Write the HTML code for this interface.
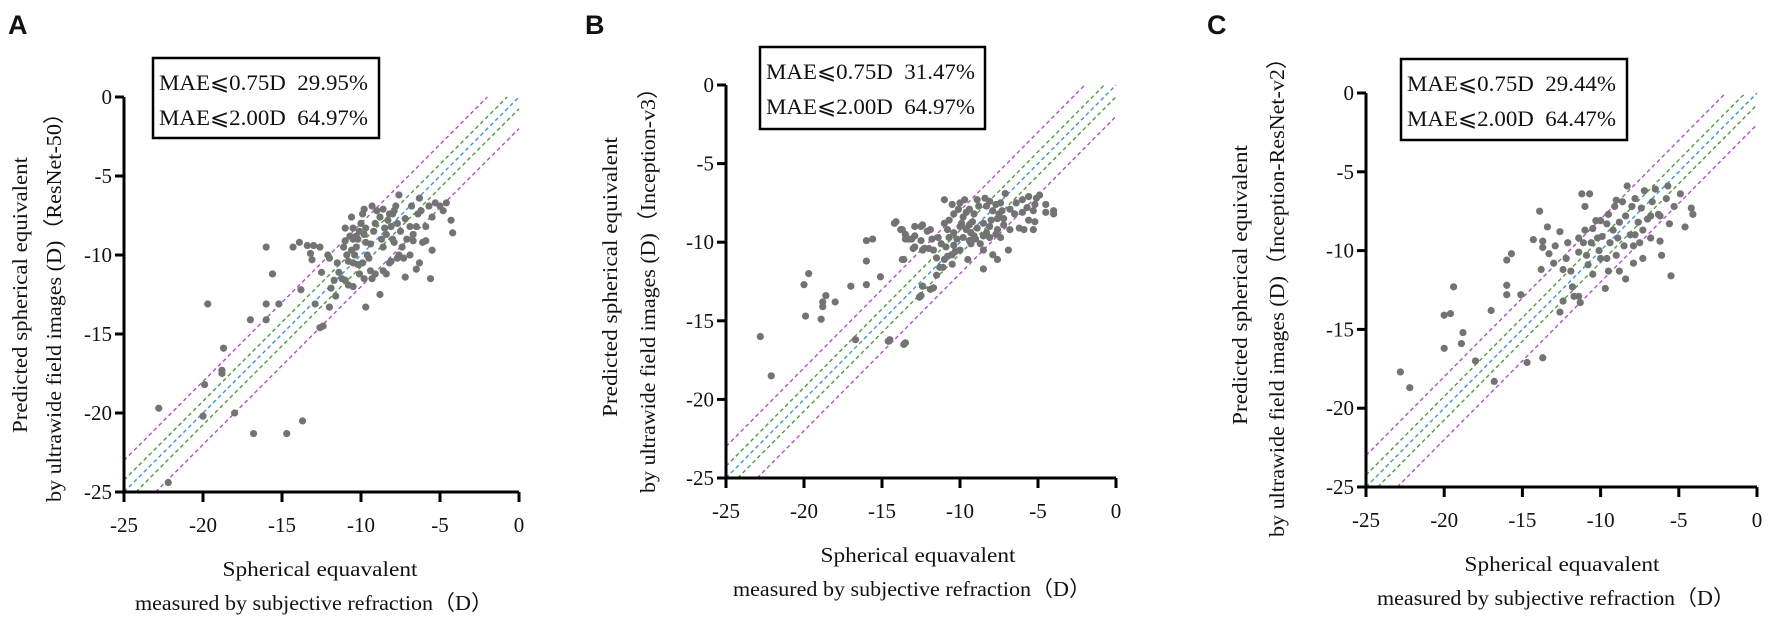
<!DOCTYPE html>
<html><head><meta charset="utf-8">
<style>
html,body{margin:0;padding:0;background:#fff;}
svg{display:block;}
text{font-family:"Liberation Serif","DejaVu Serif",serif;fill:#111;white-space:pre;}
.lbl{font-family:"Liberation Sans",sans-serif;font-weight:bold;font-size:27px;}
.tk{font-size:21px;}
.ttl{font-size:21px;}
.box{font-size:22px;}
</style></head>
<body>
<svg id="fig" width="1772" height="626" viewBox="0 0 1772 626" xmlns="http://www.w3.org/2000/svg"></svg>
<script>
// ---- data ----
const tickValues = [-25, -20, -15, -10, -5, 0];
const refOffsets = [2, 0.75, 0, -0.75, -2];
const refColors = ["#b24fc6", "#4f9a45", "#3d97c4", "#4f9a45", "#b24fc6"];

const modelNames = ["ResNet-50", "Inception-v3", "Inception-ResNet-v2"];
const mae075 = ["29.95%", "31.47%", "29.44%"];
const mae200 = ["64.97%", "64.97%", "64.47%"];

const xA = [-22.8,-22.2,-19.9,-20.0,-19.7,-18.8,-18.8,-18.7,-18.0,-17.0,-16.8,-16.0,-16.0,-16.0,-15.6,-15.2,-14.7,-13.7,-14.3,-13.9,-13.8,-13.4,-13.2,-13.0,-12.6,-13.1,-12.9,-12.6,-12.4,-12.5,-12.1,-12.0,-11.9,-12.0,-11.7,-11.6,-11.5,-11.4,-11.2,-11.1,-11.0,-10.7,-11.0,-10.6,-10.5,
-10.9,-10.8,-10.6,-10.5,-10.4,-10.3,-10.2,-10.1,-10.0,-9.9,-9.8,-9.7,-9.6,-9.5,-9.4,-9.3,-9.2,-9.1,-9.0,-8.8,-8.7,-8.6,-8.5,-8.4,-8.3,-8.2,-8.1,-8.0,-7.9,-7.8,-7.7,-7.6,-7.5,-7.4,-7.3,-7.2,-7.1,-6.9,-6.8,-6.7,-6.5,-6.4,-6.3,-6.2,-6.1,-5.9,-5.7,-5.5,-5.3,-5.0,-4.8,-4.6,-4.3,-4.2,
-5.5,-5.6,-6.5,-7.2,-7.7,-8.1,-8.4,-8.8,-9.1,-9.7,-9.8,-10.1,-10.2,-10.5,-10.8,-11.0,-5.9,-6.3,-6.7,-6.9,-7.6,-7.9,-8.2,-8.6,-9.4,-9.9,-10.5,-9.8,-9.3,-8.6,-8.0,-9.7,-10.3];
const yA = [-19.7,-24.4,-18.2,-20.2,-13.1,-17.3,-17.5,-15.9,-20.0,-14.1,-21.3,-9.5,-13.1,-14.1,-11.2,-13.1,-21.3,-20.5,-9.5,-9.2,-12.2,-9.4,-9.9,-9.4,-9.5,-10.3,-13.1,-14.6,-14.5,-11.1,-10.0,-10.2,-12.1,-13.3,-11.6,-12.6,-10.5,-11.1,-11.5,-9.5,-9.1,-8.8,-8.3,-7.6,-8.3,
-10.0,-10.4,-9.7,-10.5,-10.0,-9.5,-9.0,-8.5,-8.0,-7.4,-8.7,-9.2,-10.0,-10.2,-11.0,-11.5,-8.5,-8.0,-7.2,-7.6,-9.0,-9.5,-8.3,-8.7,-7.8,-7.4,-8.2,-9.0,-7.2,-6.9,-8.0,-6.2,-8.5,-9.5,-10.2,-7.7,-9.0,-10.0,-6.9,-8.7,-8.2,-7.4,-6.4,-7.2,-9.2,-8.2,-6.9,-7.6,-6.7,-6.9,-7.2,-6.7,-7.8,-8.6,
-9.7,-11.5,-10.9,-11.4,-10.2,-10.4,-11.2,-12.5,-11.2,-13.3,-11.5,-11.2,-10.6,-12.0,-11.9,-11.6,-9.1,-10.5,-9.1,-8.2,-10.0,-9.2,-10.5,-11.0,-9.3,-10.5,-9.0,-7.1,-6.9,-7.1,-7.4,-8.3,-8.8];

const xB = [-22.8,-22.1,-20.0,-19.7,-19.9,-18.9,-18.8,-18.8,-18.6,-18.0,-17.0,-16.7,-16.0,-16.0,-16.0,-15.6,-15.1,-14.6,-13.6,-14.2,-13.8,-13.5,-13.1,-13.5,-12.9,-12.5,-12.1,-11.8,-12.0,-12.4,-13.0,-13.7,-12.6,-12.4,-11.9,-11.5,-11.3,-11.0,-10.8,-10.5,-10.3,
-11.0,-14.1,-13.7,-13.3,-12.9,-12.5,-12.4,-11.9,-12.9,-12.3,-11.7,-13.6,-11.5,-11.1,-12.4,-11.7,-12.5,-14.5,-13.5,-9.5,-8.5,-7.9,-7.6,-6.9,-8.5,
-10.7,-10.5,-10.0,-9.7,-10.4,-9.8,-9.4,-9.1,-8.8,-8.4,-8.1,-7.7,-7.4,-7.1,-7.9,-7.5,-7.2,-6.8,-6.4,-6.0,-5.6,-5.1,-4.9,-4.5,-5.2,-5.7,-5.3,-4.5,-4.0,-4.0,-5.6,-5.2,-6.2,-5.9,-5.3,-6.8,-7.2,-7.6,-8.1,-8.5,-8.9,-9.3,-9.6,-10.0,-10.4,-10.7,-10.2,-9.8,-9.4,-9.0,-8.5,-8.1,-7.7,-7.4,-11.0,-10.8,-10.4,-10.9,-10.0,-9.3,-8.7,-8.3,-8.0,-9.2,-9.6,-10.1,-8.9,-8.3,-9.9,-7.3,-6.5,-6.0,-7.6,-10.5,-11.2,-11.4,-9.4,-9.1];
const yB = [-16.0,-18.5,-12.7,-12.0,-14.7,-14.9,-14.1,-13.8,-13.4,-13.8,-12.8,-16.2,-12.7,-11.2,-9.9,-9.8,-12.2,-16.3,-16.5,-8.8,-9.2,-9.5,-9.8,-9.8,-9.0,-9.0,-9.3,-9.8,-10.4,-10.5,-10.4,-11.1,-13.5,-12.8,-13.0,-12.1,-11.6,-11.1,-10.9,-11.4,-10.6,
-7.3,-8.7,-9.2,-9.8,-9.6,-9.9,-8.9,-9.2,-10.3,-10.4,-10.5,-11.1,-11.0,-11.6,-12.8,-12.9,-13.4,-16.2,-16.4,-11.1,-11.7,-10.8,-11.1,-10.5,-10.5,
-8.6,-7.6,-7.5,-7.3,-8.2,-8.4,-7.9,-8.2,-7.7,-7.2,-7.4,-7.6,-7.5,-6.9,-8.0,-8.2,-8.5,-7.9,-7.5,-7.3,-7.1,-7.2,-7.0,-7.6,-7.6,-7.8,-8.0,-8.1,-8.2,-8.0,-8.6,-8.7,-9.1,-9.2,-9.2,-9.2,-8.9,-9.2,-9.0,-8.8,-9.1,-9.4,-9.2,-9.0,-9.4,-9.7,-9.8,-9.7,-9.9,-9.8,-9.6,-9.7,-9.5,-9.7,-8.8,-9.2,-10.2,-10.3,-10.5,-10.1,-10.1,-9.4,-8.6,-8.7,-8.1,-7.9,-7.3,-7.7,-8.8,-8.0,-8.2,-8.1,-8.5,-10.8,-10.1,-9.7,-8.9,-9.6];

const xC = [-22.8,-22.2,-20.0,-19.6,-20.0,-19.4,-18.9,-18.8,-18.0,-17.0,-16.8,-16.0,-16.0,-16.0,-15.7,-15.1,-14.7,-14.3,-13.9,-13.7,-13.7,-13.7,-13.8,-13.4,-13.3,-13.0,-12.9,-12.6,-12.6,-12.4,-12.4,-12.2,-12.1,-11.9,-11.8,-11.7,-11.4,-11.4,-11.3,-11.1,-11.2,-10.7,-11.0,-10.9,-10.8,-10.6,-10.5,-10.3,-10.2,-10.1,-10.0,-9.9,-9.7,-9.6,-9.5,-9.4,-9.2,-9.1,-9.0,-8.9,-8.8,-8.6,-8.5,-8.4,-8.3,-8.1,-8.0,-7.9,-7.8,-7.6,-7.5,-7.4,-7.3,-7.2,-7.0,-6.8,-6.7,-6.5,-6.3,-6.2,-6.1,-5.8,-5.7,-5.6,-5.3,-4.9,-4.6,-4.2,-4.1,-5.5,-6.2,-8.4,-8.8,-9.5,-10.5,-10.0,-9.0,-9.6,-7.8,-7.3,-6.8,-7.9,-11.0,-11.4];
const yC = [-17.7,-18.7,-14.1,-14.0,-16.2,-12.3,-15.9,-15.2,-17.0,-13.8,-18.3,-10.6,-12.2,-12.8,-10.2,-12.8,-17.1,-9.3,-7.5,-16.8,-9.4,-9.8,-11.2,-8.5,-10.2,-10.8,-9.7,-8.8,-13.9,-13.2,-11.2,-10.5,-9.5,-11.3,-12.3,-12.9,-10.1,-12.9,-13.3,-9.5,-6.4,-6.4,-7.2,-10.3,-10.9,-9.5,-8.6,-8.1,-9.2,-10.0,-10.5,-9.1,-12.4,-8.3,-7.7,-9.5,-8.7,-7.2,-10.3,-9.2,-8.2,-6.9,-9.7,-7.8,-5.9,-9.0,-7.2,-10.8,-6.7,-8.2,-9.5,-7.3,-8.7,-6.2,-8.0,-9.2,-6.9,-6.1,-7.7,-9.4,-10.3,-6.7,-5.9,-8.3,-7.2,-6.4,-8.5,-7.3,-7.7,-11.6,-7.8,-11.8,-11.3,-11.3,-11.5,-8.1,-6.8,-10.5,-9.0,-10.5,-7.8,-9.7,-8.7,-9.2];

const panelXs = [xA, xB, xC];
const panelYs = [yA, yB, yC];

// ---- layout (pixels, not data) ----
const layout = [
  {letter:"A", lx:8,    x0:124,  x1:519,  y0:97, y1:492, box:[153,58,226,80],
   yl1:[20,295,276], yl2:[54,302,400], xt:320},
  {letter:"B", lx:585,  x0:726,  x1:1116, y0:85, y1:478, box:[760,47,225,82],
   yl1:[610,277,280], yl2:[648,285,416], xt:918},
  {letter:"C", lx:1207, x0:1366, x1:1757, y0:93, y1:487, box:[1401,59,226,81],
   yl1:[1240,285,280], yl2:[1277,292,490], xt:1562}
];

const NS = "http://www.w3.org/2000/svg";
const svg = document.getElementById("fig");
function mk(tag, attrs, parent){
  const e = document.createElementNS(NS, tag);
  for (const k in attrs) e.setAttribute(k, attrs[k]);
  (parent||svg).appendChild(e);
  return e;
}

layout.forEach((L, pi) => {
  const g = mk("g", {});
  
  
  const sx = v => L.x0 + (v - (-25)) / 25 * (L.x1 - L.x0);
  const sy = v => L.y0 + (0 - v) / 25 * (L.y1 - L.y0);

  const pl = mk("text", {x:L.lx, y:34, class:"lbl"}, g);
  pl.textContent = L.letter;
  
  

  refOffsets.forEach((d, i) => {
    let xa, ya, xb, yb;
    if (d >= 0) { xa = -25; ya = -25 + d; xb = -d; yb = 0; }
    else { xa = -25 - d; ya = -25; xb = 0; yb = d; }
    const ln = mk("line", {x1:sx(xa), y1:sy(ya), x2:sx(xb), y2:sy(yb),
      stroke:refColors[i], "stroke-width":1.4, "stroke-dasharray":"4 3"}, g);
    
    
  });

  const xs = panelXs[pi], ys = panelYs[pi];
  xs.forEach((xv, i) => {
    const c = mk("circle", {cx:sx(xv), cy:sy(ys[i]), r:3.6, fill:"#737373"}, g);
    
    
  });

  const ax = mk("path", {d:`M${L.x0} ${L.y0} V${L.y1} H${L.x1}`, fill:"none", stroke:"#000", "stroke-width":3}, g);
  
  
  tickValues.forEach(t => {
    const ty = sy(t), tx = sx(t);
    const yt = mk("line", {x1:L.x0-9, y1:ty, x2:L.x0, y2:ty, stroke:"#000", "stroke-width":3}, g);
    
    
    const ytl = mk("text", {x:L.x0-12, y:ty+7, "text-anchor":"end", class:"tk"}, g);
    ytl.textContent = t;
    
    
    const xt = mk("line", {x1:tx, y1:L.y1, x2:tx, y2:L.y1+10, stroke:"#000", "stroke-width":3}, g);
    
    
    const xtl = mk("text", {x:tx, y:L.y1+40, "text-anchor":"middle", class:"tk"}, g);
    xtl.textContent = t;
    
    
  });

  const t1 = mk("text", {x:L.xt, y:L.y1+84, "text-anchor":"middle", class:"ttl", textLength:195, lengthAdjust:"spacingAndGlyphs"}, g);
  t1.textContent = "Spherical equavalent";
  
  
  const t2 = mk("text", {x:L.xt-6, y:L.y1+118, "text-anchor":"middle", class:"ttl", textLength:358, lengthAdjust:"spacingAndGlyphs"}, g);
  t2.textContent = "measured by subjective refraction（D）";
  
  

  const y1t = mk("text", {x:0, y:0, "text-anchor":"middle", class:"ttl", textLength:L.yl1[2], lengthAdjust:"spacingAndGlyphs",
    transform:`translate(${L.yl1[0]+7},${L.yl1[1]}) rotate(-90)`}, g);
  y1t.textContent = "Predicted spherical equivalent";
  
  
  const y2t = mk("text", {x:0, y:0, "text-anchor":"middle", class:"ttl", textLength:L.yl2[2], lengthAdjust:"spacingAndGlyphs",
    transform:`translate(${L.yl2[0]+7},${L.yl2[1]}) rotate(-90)`}, g);
  y2t.textContent = "by ultrawide field images (D)（" + modelNames[pi] + "）";
  
  

  const [bx, by, bw, bh] = L.box;
  const bg = mk("g", {}, g);
  
  
  mk("rect", {x:bx, y:by, width:bw, height:bh, fill:"#fff", stroke:"#000", "stroke-width":2.5}, bg);
  const r1 = mk("text", {x:bx+6, y:by+32, class:"box", textLength:209, lengthAdjust:"spacingAndGlyphs"}, bg);
  r1.textContent = "MAE⩽0.75D  " + mae075[pi];
  
  
  const r2 = mk("text", {x:bx+6, y:by+67, class:"box", textLength:209, lengthAdjust:"spacingAndGlyphs"}, bg);
  r2.textContent = "MAE⩽2.00D  " + mae200[pi];
  
  
});
</script>
</body></html>
